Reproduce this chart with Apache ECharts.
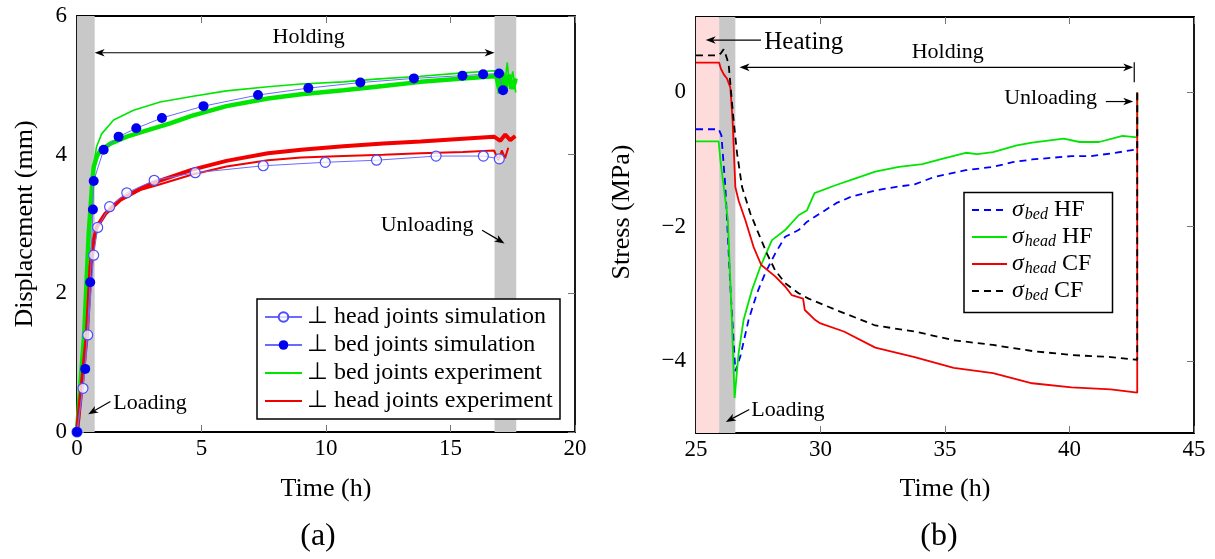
<!DOCTYPE html>
<html><head><meta charset="utf-8">
<script src="https://cdn.jsdelivr.net/npm/echarts@6/dist/echarts.min.js"></script>
<style>html,body{margin:0;padding:0;background:#fff}#c{width:1215px;height:559px}</style>
</head><body><div id="c"></div>
<script>
// ---------- (a) displacement data ----------
const dispXTicks = [0, 5, 10, 15, 20];
const dispYTicks = [0, 2, 4, 6];
const headSimT = [0, 0.24, 0.43, 0.67, 0.83, 1.31, 2.0, 3.10, 4.75, 7.48, 9.97, 12.03, 14.42, 16.32, 16.96];
const headSimV = [0, 0.63, 1.40, 2.55, 2.95, 3.25, 3.45, 3.63, 3.74, 3.84, 3.89, 3.92, 3.98, 3.98, 3.94];
const bedSimT = [0, 0.33, 0.53, 0.64, 0.67, 1.07, 1.67, 2.38, 3.41, 5.08, 7.27, 9.29, 11.38, 13.53, 15.48, 16.31, 16.95, 17.11];
const bedSimV = [0, 0.91, 2.16, 3.21, 3.62, 4.07, 4.26, 4.38, 4.53, 4.70, 4.86, 4.96, 5.04, 5.10, 5.14, 5.16, 5.17, 4.93];
const bedExpAT = [0, 0.15, 0.29, 0.47, 0.61, 0.67, 0.78, 0.99, 1.47, 2.27, 3.34, 4.6, 6.0, 7.67, 9.0, 10.7, 12.0, 13.8, 15.5, 16.75, 16.85, 16.92, 17.05, 17.15, 17.28, 17.38, 17.5, 17.62];
const bedExpAV = [0, 0.75, 1.42, 2.86, 3.58, 3.82, 4.11, 4.30, 4.50, 4.64, 4.76, 4.84, 4.92, 4.98, 5.02, 5.05, 5.09, 5.13, 5.18, 5.21, 5.20, 4.88, 5.22, 4.90, 5.33, 4.95, 5.20, 4.90];
const bedExpBT = [0, 0.15, 0.29, 0.47, 0.61, 0.67, 0.80, 0.94, 1.34, 2.0, 2.81, 3.74, 4.6, 6.0, 7.67, 9.0, 10.7, 12.3, 13.8, 15.5, 16.75, 16.85, 16.95, 17.1, 17.2, 17.35, 17.5, 17.62];
const bedExpBV = [0, 0.75, 1.42, 2.86, 3.58, 3.82, 3.98, 4.06, 4.16, 4.26, 4.35, 4.45, 4.56, 4.70, 4.81, 4.87, 4.93, 4.99, 5.05, 5.10, 5.13, 5.12, 4.95, 5.18, 4.95, 5.15, 4.95, 5.10];
const headExpAT = [0, 0.2, 0.4, 0.54, 0.67, 0.8, 1.14, 1.74, 2.54, 3.21, 4.6, 6.0, 7.67, 9.0, 10.7, 12.3, 13.8, 15.5, 16.75, 16.92, 17.06, 17.19, 17.32];
const headExpAV = [0, 0.7, 1.42, 2.38, 2.77, 2.96, 3.15, 3.34, 3.49, 3.56, 3.71, 3.83, 3.92, 3.96, 3.98, 4.00, 4.02, 4.04, 4.06, 3.92, 4.06, 3.95, 4.10];
const headExpBT = [0, 0.2, 0.4, 0.54, 0.67, 0.8, 1.14, 1.74, 2.54, 3.21, 4.6, 6.0, 7.67, 9.0, 10.7, 12.3, 13.8, 15.5, 16.75, 17.0, 17.2, 17.4, 17.6];
const headExpBV = [0, 0.7, 1.42, 2.38, 2.77, 2.96, 3.15, 3.35, 3.51, 3.61, 3.78, 3.91, 4.02, 4.07, 4.12, 4.16, 4.19, 4.23, 4.26, 4.20, 4.29, 4.21, 4.27];

// ---------- (b) stress data ----------
const stressXTicks = [25, 30, 35, 40, 45];
const stressYTicks = [-4, -2, 0];
const bedHFT = [25, 25.91, 26.02, 26.18, 26.38, 26.58, 26.78, 27.11, 27.45, 27.78, 28.18, 28.58, 29.12, 29.45, 30.0, 30.63, 31.26, 32.2, 32.99, 33.78, 34.57, 35.83, 36.93, 37.72, 38.5, 40.08, 40.87, 41.66, 42.72, 42.72];
const bedHFV = [-0.55, -0.55, -0.64, -1.41, -2.89, -4.15, -3.93, -3.39, -2.99, -2.69, -2.40, -2.15, -2.05, -1.93, -1.80, -1.65, -1.55, -1.46, -1.41, -1.37, -1.26, -1.16, -1.11, -1.04, -1.00, -0.95, -0.95, -0.91, -0.85, 0];
const headHFT = [25, 25.91, 25.98, 26.28, 26.44, 26.55, 26.71, 26.91, 27.25, 27.58, 28.05, 28.58, 29.12, 29.45, 29.76, 30.63, 31.41, 32.2, 33.15, 34.09, 34.88, 35.83, 36.3, 36.93, 37.88, 38.5, 39.77, 40.4, 41.19, 42.13, 42.72, 42.72];
const headHFV = [-0.73, -0.73, -1.01, -1.90, -3.39, -4.55, -3.88, -3.39, -2.94, -2.60, -2.20, -2.05, -1.83, -1.76, -1.50, -1.38, -1.28, -1.18, -1.11, -1.07, -0.99, -0.90, -0.92, -0.89, -0.79, -0.75, -0.69, -0.74, -0.74, -0.65, -0.67, 0];
const headCFT = [25, 25.93, 26.0, 26.11, 26.25, 26.38, 26.47, 26.58, 26.71, 26.98, 27.31, 27.62, 28.18, 28.58, 28.85, 29.3, 29.37, 29.79, 30.0, 30.94, 32.2, 33.78, 35.35, 36.93, 38.5, 40.08, 41.66, 42.72, 42.72];
const headCFV = [0.44, 0.44, 0.35, 0.27, 0.20, 0.07, -0.42, -1.41, -1.61, -1.90, -2.30, -2.57, -2.74, -2.89, -3.02, -3.07, -3.24, -3.39, -3.44, -3.56, -3.80, -3.94, -4.10, -4.18, -4.33, -4.39, -4.42, -4.47, 0];
const bedCFT = [25, 25.9, 26.0, 26.11, 26.2, 26.31, 26.51, 26.65, 26.85, 27.18, 27.51, 27.85, 28.18, 28.58, 29.12, 29.52, 30.63, 32.2, 33.78, 35.35, 36.93, 38.5, 40.08, 41.66, 42.72, 42.72];
const bedCFV = [0.55, 0.55, 0.58, 0.64, 0.55, 0.42, -0.42, -0.91, -1.41, -1.80, -2.10, -2.40, -2.65, -2.84, -2.99, -3.07, -3.24, -3.47, -3.56, -3.69, -3.76, -3.85, -3.91, -3.94, -3.98, 0];

// ---------- names ----------
const leftNames = ['⊥ head joints simulation', '⊥ bed joints simulation', '⊥ bed joints experiment', '⊥ head joints experiment'];
const rightNames = ['σ_bed HF', 'σ_head HF', 'σ_head CF', 'σ_bed CF'];

const zip = (t, v) => t.map((x, i) => [x, v[i]]);
const FONT = 'Liberation Serif';
const TICK = '#777';

function xAx(grid, min, max, pos, labels) {
  return {
    type: 'value', gridIndex: grid, min: min, max: max, interval: 5, position: pos,
    axisLine: { show: true, onZero: false, lineStyle: { color: '#000', width: 1.8 } },
    axisTick: { show: true, inside: true, length: 7, lineStyle: { color: TICK, width: 1 } },
    axisLabel: { show: labels, fontFamily: FONT, fontSize: 23, color: '#000', margin: 5 },
    splitLine: { show: false }
  };
}
function yAx(grid, min, max, interval, pos, labels, custom) {
  const a = {
    type: 'value', gridIndex: grid, min: min, max: max, position: pos,
    axisLine: { show: true, onZero: false, lineStyle: { color: '#000', width: 1.8 } },
    axisTick: { show: true, inside: true, length: 7, lineStyle: { color: TICK, width: 1 } },
    axisLabel: { show: labels, fontFamily: FONT, fontSize: 23, color: '#000', margin: 10,
      formatter: v => (v < 0 ? '\u2212' + Math.abs(v) : String(v)) },
    splitLine: { show: false }
  };
  if (interval) a.interval = interval;
  if (custom) { a.axisTick.customValues = custom; a.axisLabel.customValues = custom; }
  return a;
}

const BLUE_LINE = '#6a6aff';
const GREEN = '#00e600';
const RED = '#f20000';
const noSym = { opacity: 0 };

const option = {
  animation: false,
  backgroundColor: '#fff',
  grid: [
    { left: 77, top: 16, width: 498, height: 416, show: false },
    { left: 696, top: 17, width: 498, height: 416, show: false }
  ],
  xAxis: [xAx(0, 0, 20, 'bottom', true), xAx(0, 0, 20, 'top', false), xAx(1, 25, 45, 'bottom', true), xAx(1, 25, 45, 'top', false)],
  yAxis: [yAx(0, 0, 6, 2, 'left', true), yAx(0, 0, 6, 2, 'right', false),
          yAx(1, -5.07, 1.12, null, 'left', true, stressYTicks), yAx(1, -5.07, 1.12, null, 'right', false, stressYTicks)],
  legend: [
    { data: [leftNames[0], leftNames[1], { name: leftNames[2], itemStyle: noSym }, { name: leftNames[3], itemStyle: noSym }],
      orient: 'vertical', left: 264, top: 305, padding: 0, itemGap: 4, itemWidth: 37, itemHeight: 12,
      selectedMode: false, textStyle: { fontFamily: FONT, fontSize: 24, color: '#000', lineHeight: 24 } },
    { data: rightNames.map(n => ({ name: n, itemStyle: noSym })),
      orient: 'vertical', left: 971, top: 198, padding: 0, itemGap: 2, itemWidth: 35, itemHeight: 12,
      selectedMode: false,
      formatter: n => n.replace(/σ_(\w+) (\w+)/, '{g|σ}{sub|$1} $2'),
      textStyle: { fontFamily: FONT, fontSize: 24, color: '#000',
        rich: { g: { fontFamily: FONT, fontSize: 24, fontStyle: 'italic', color: '#000' },
                sub: { fontFamily: FONT, fontSize: 16, fontStyle: 'italic', color: '#000', padding: [10, 0, 0, 1] } } } }
  ],
  series: [
    { type: 'line', xAxisIndex: 0, yAxisIndex: 0, data: [[0, 0]], symbol: 'none', lineStyle: { opacity: 0 }, z: 1, silent: true,
      markArea: { silent: true, itemStyle: { color: '#c8c8c8' }, data: [[{ xAxis: 0 }, { xAxis: 0.71 }], [{ xAxis: 16.77 }, { xAxis: 17.64 }]] } },
    { name: leftNames[2], type: 'line', xAxisIndex: 0, yAxisIndex: 0, data: zip(bedExpBT, bedExpBV), symbol: 'none', lineStyle: { color: GREEN, width: 4.5 }, itemStyle: { color: GREEN }, z: 2 },
    { name: leftNames[2], type: 'line', xAxisIndex: 0, yAxisIndex: 0, data: zip(bedExpAT, bedExpAV), symbol: 'none', lineStyle: { color: GREEN, width: 1.6 }, itemStyle: { color: GREEN }, z: 2 },
    { name: leftNames[3], type: 'line', xAxisIndex: 0, yAxisIndex: 0, data: zip(headExpBT, headExpBV), symbol: 'none', lineStyle: { color: RED, width: 4 }, itemStyle: { color: RED }, z: 2 },
    { name: leftNames[3], type: 'line', xAxisIndex: 0, yAxisIndex: 0, data: zip(headExpAT, headExpAV), symbol: 'none', lineStyle: { color: RED, width: 2 }, itemStyle: { color: RED }, z: 2 },
    { name: leftNames[0], type: 'line', xAxisIndex: 0, yAxisIndex: 0, data: zip(headSimT, headSimV), symbol: 'circle', symbolSize: 10,
      lineStyle: { color: BLUE_LINE, width: 1 }, itemStyle: { color: 'rgba(255,255,255,0.75)', borderColor: '#4d4dff', borderWidth: 1.2 }, z: 3 },
    { name: leftNames[1], type: 'line', xAxisIndex: 0, yAxisIndex: 0, data: zip(bedSimT, bedSimV), symbol: 'circle', symbolSize: 10,
      lineStyle: { color: BLUE_LINE, width: 1 }, itemStyle: { color: '#0000ee', borderWidth: 0 }, z: 3 },

    { type: 'line', xAxisIndex: 2, yAxisIndex: 2, data: [[25, 0]], symbol: 'none', lineStyle: { opacity: 0 }, z: 1, silent: true,
      markArea: { silent: true, data: [[{ xAxis: 25, itemStyle: { color: '#ffdcdc' } }, { xAxis: 25.93 }], [{ xAxis: 25.93, itemStyle: { color: '#c8c8c8' } }, { xAxis: 26.58 }]] } },
    { name: rightNames[0], type: 'line', xAxisIndex: 2, yAxisIndex: 2, data: zip(bedHFT, bedHFV), symbol: 'none', lineStyle: { color: '#0000ff', width: 1.8, type: [7, 5] }, itemStyle: { color: '#0000ff' }, z: 2 },
    { name: rightNames[1], type: 'line', xAxisIndex: 2, yAxisIndex: 2, data: zip(headHFT, headHFV), symbol: 'none', lineStyle: { color: GREEN, width: 1.8 }, itemStyle: { color: GREEN }, z: 2 },
    { name: rightNames[2], type: 'line', xAxisIndex: 2, yAxisIndex: 2, data: zip(headCFT, headCFV), symbol: 'none', lineStyle: { color: RED, width: 1.8 }, itemStyle: { color: RED }, z: 2 },
    { name: rightNames[3], type: 'line', xAxisIndex: 2, yAxisIndex: 2, data: zip(bedCFT, bedCFV), symbol: 'none', lineStyle: { color: '#000', width: 1.8, type: [7, 5] }, itemStyle: { color: '#000' }, z: 2 }
  ]
};

const chart = echarts.init(document.getElementById('c'), null, { renderer: 'canvas' });
chart.setOption(option);

// ---------- annotations (placed in data coordinates) ----------
const P = (g, x, y) => chart.convertToPixel({ gridIndex: g }, [x, y]);
const els = [];
function txt(p, s, size, align, rot) {
  els.push({ type: 'text', x: p[0], y: p[1], rotation: rot || 0, z: 20,
    style: { text: s, fill: '#000', font: size + 'px "' + FONT + '"', align: align || 'center', verticalAlign: 'middle',
      textAlign: align || 'center', textVerticalAlign: 'middle' } });
}
function head(tip, ux, uy) {
  const hl = 10, hw = 3.8;
  els.push({ type: 'polygon', z: 20, shape: { points: [
    [tip[0], tip[1]],
    [tip[0] - ux * hl - uy * hw, tip[1] - uy * hl + ux * hw],
    [tip[0] - ux * hl * 0.72, tip[1] - uy * hl * 0.72],
    [tip[0] - ux * hl + uy * hw, tip[1] - uy * hl - ux * hw]] }, style: { fill: '#000' } });
}
function arrow(a, b, both) {
  const dx = b[0] - a[0], dy = b[1] - a[1], L = Math.hypot(dx, dy), ux = dx / L, uy = dy / L;
  const s = both ? 6 : 0;
  els.push({ type: 'line', z: 20, shape: { x1: a[0] + ux * s, y1: a[1] + uy * s, x2: b[0] - ux * 6, y2: b[1] - uy * 6 }, style: { stroke: '#000', lineWidth: 1.2 } });
  head(b, ux, uy);
  if (both) head(a, -ux, -uy);
}
// legend boxes
els.push({ type: 'rect', z: 3, shape: { x: 257, y: 299, width: 303, height: 120 }, style: { fill: '#fff', stroke: '#000', lineWidth: 1.5 } });
els.push({ type: 'rect', z: 3, shape: { x: 964, y: 192.5, width: 148.5, height: 120 }, style: { fill: '#fff', stroke: '#000', lineWidth: 1.5 } });

// (a)
txt(P(0, 9.3, 5.70), 'Holding', 22);
arrow(P(0, 0.71, 5.47), P(0, 16.77, 5.47), true);
txt(P(0, 14.06, 2.98), 'Unloading', 22);
arrow(P(0, 16.27, 2.91), P(0, 17.17, 2.72), false);
txt(P(0, 1.46, 0.41), 'Loading', 22, 'left');
arrow(P(0, 1.34, 0.44), P(0, 0.45, 0.255), false);
// (b)
txt(P(1, 27.74, 0.742), 'Heating', 25, 'left');
arrow(P(1, 27.61, 0.777), P(1, 25.39, 0.777), false);
txt(P(1, 35.11, 0.593), 'Holding', 22);
arrow(P(1, 26.75, 0.371), P(1, 42.56, 0.371), true);
(function () { const a = P(1, 42.6, 0.445), b = P(1, 42.6, 0.148);
  els.push({ type: 'line', z: 20, shape: { x1: a[0], y1: a[1], x2: b[0], y2: b[1] }, style: { stroke: '#000', lineWidth: 1.2 } }); })();
txt(P(1, 39.24, -0.089), 'Unloading', 22);
arrow(P(1, 41.46, -0.138), P(1, 42.56, -0.138), false);
txt(P(1, 27.22, -4.73), 'Loading', 22, 'left');
arrow(P(1, 27.14, -4.72), P(1, 26.2, -4.905), false);

// axis titles and panel labels
txt([326, 489], 'Time (h)', 26);
txt([945, 489], 'Time (h)', 26);
txt([25, 224], 'Displacement (mm)', 26, 'center', Math.PI / 2);
txt([622, 212], 'Stress (MPa)', 26, 'center', Math.PI / 2);
txt([318, 537], '(a)', 32);
txt([939, 537], '(b)', 32);

chart.setOption({ graphic: { elements: els } });
</script>
</body></html>
